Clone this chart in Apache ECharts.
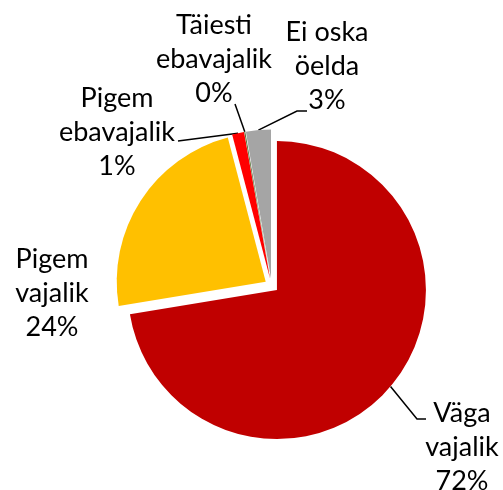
<!DOCTYPE html>
<html>
<head>
<meta charset="utf-8">
<style>
  html, body { margin: 0; padding: 0; background: #ffffff; }
  #chart { width: 503px; height: 490px; }
</style>
<script src="https://cdn.jsdelivr.net/npm/echarts@6/dist/echarts.min.js"></script>
</head>
<body>
<div id="chart"></div>
<script>
// Survey answers, clockwise from 12 o'clock
const categories = ['Väga\nvajalik', 'Pigem\nvajalik', 'Pigem\nebavajalik', 'Täiesti\nebavajalik', 'Ei oska\nöelda'];
const shares = [72.4, 23.5, 1.3, 0.1, 2.7];
const sliceColors = ['#C00000', '#FFC000', '#FF0000', '#4a6a2a', '#A5A5A5'];

// Pie geometry: every slice is pulled out from the common centre
const CX = 271.6, CY = 285.5, R = 149, EXPLODE = 7;

// Label block centres and leader-line bends (null = no leader line)
const labelSpots = [
  { x: 462, y: 447, bend: [[417, 419], [426, 419]] },
  { x: 52,  y: 293, bend: null },
  { x: 117, y: 132, bend: [[178, 141]] },
  { x: 214, y: 59,  bend: [[235, 104]] },
  { x: 327, y: 66,  bend: [[297, 111], [307, 111]] }
];

const total = shares.reduce((a, b) => a + b, 0);
function midAngle(i) {
  let before = 0;
  for (let k = 0; k < i; k++) before += shares[k];
  return ((before + shares[i] / 2) / total) * Math.PI * 2; // clockwise from top
}
function sliceCentre(i) {
  const a = midAngle(i);
  return [CX + Math.sin(a) * EXPLODE, CY - Math.cos(a) * EXPLODE];
}
function arcPoint(i) {
  const a = midAngle(i);
  const c = sliceCentre(i);
  return [c[0] + Math.sin(a) * R, c[1] - Math.cos(a) * R];
}

// One pie layer per slice, each shifted outwards along its own mid-angle
const series = categories.map((_, own) => ({
  type: 'pie',
  center: sliceCentre(own),
  radius: [0, R],
  startAngle: 90,
  clockwise: true,
  percentPrecision: 0,
  avoidLabelOverlap: false,
  silent: true,
  emphasis: { disabled: true },
  label: {
    show: true,
    position: 'outside',
    formatter: p => p.name + '\n' + p.percent + '%',
    fontFamily: 'Lato',
    fontSize: 27,
    lineHeight: 34,
    color: '#000000',
    align: 'center'
  },
  labelLine: {
    show: true,
    lineStyle: { color: '#000000', width: 1.5 }
  },
  labelLayout: function (p) {
    const i = p.dataIndex;
    const spot = labelSpots[i];
    const out = { x: spot.x, y: spot.y, align: 'center', verticalAlign: 'middle' };
    if (spot.bend) {
      const pts = [arcPoint(i)].concat(spot.bend);
      if (pts.length < 3) pts.push(spot.bend[spot.bend.length - 1]);
      out.labelLinePoints = pts;
    }
    return out;
  },
  data: categories.map((name, i) => ({
    name: name,
    value: shares[i],
    itemStyle: { color: i === own ? sliceColors[i] : 'rgba(0,0,0,0)', borderWidth: 0 },
    label: { show: i === own },
    labelLine: { show: i === own && labelSpots[i].bend !== null }
  }))
}));

const chart = echarts.init(document.getElementById('chart'), null, { renderer: 'canvas' });
chart.setOption({
  animation: false,
  backgroundColor: '#ffffff',
  series: series
});
</script>
</body>
</html>
